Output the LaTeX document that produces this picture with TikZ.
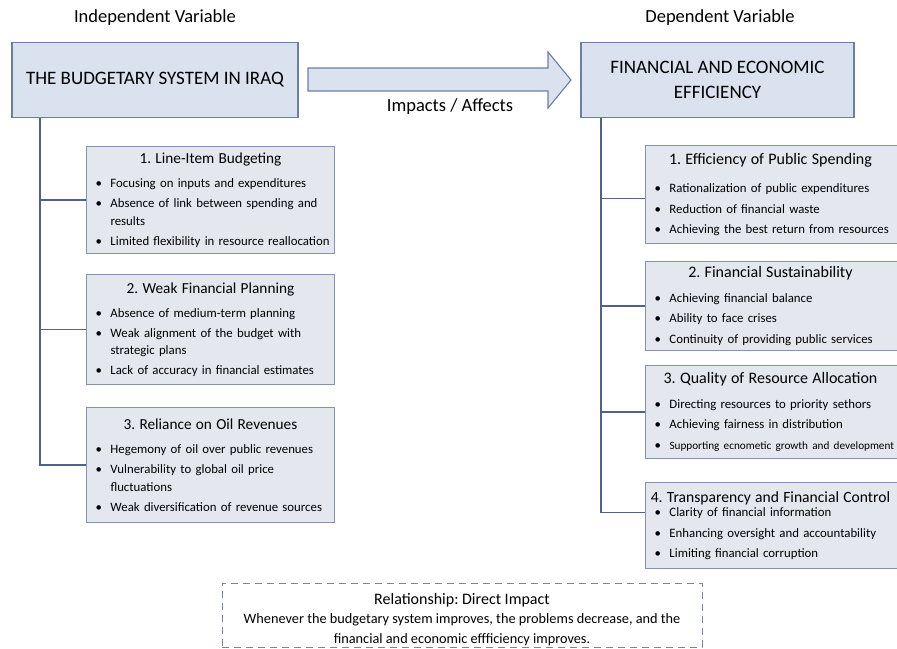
\documentclass[tikz,border=0pt]{standalone}
\usepackage{fontspec}
\setmainfont{Carlito}
\usepackage{tikz}
\usepackage{xcolor}
\usetikzlibrary{positioning,calc}
\definecolor{topfill}{HTML}{DAE1EF}
\definecolor{topdraw}{HTML}{6B7FA3}
\definecolor{subfill}{HTML}{E4E7ED}
\definecolor{subdraw}{HTML}{8494AE}
\definecolor{linecol}{HTML}{50628A}
\frenchspacing
\hyphenpenalty=10000
\newlength{\itmgap}
\setlength{\itmgap}{2.5pt}
\newlength{\hdw}
\setlength{\hdw}{240pt}
\newcommand{\itm}[1]{\par\vspace{\itmgap}\noindent\hyphenpenalty=10000\hangindent=20pt\hangafter=1\makebox[20pt][l]{\hspace{5pt}\textbullet}#1}
\newcommand{\boxhead}[3][3pt]{\noindent\hbox to\hdw{\hss\fontsize{#2}{20}\selectfont #3\hss}\par\vspace{#1}}

\begin{document}
\begin{tikzpicture}[x=1pt,y=-1pt,
    mainbox/.style={draw=topdraw,fill=topfill,line width=1.1pt,align=center,
      font=\fontsize{19}{25}\selectfont,minimum height=75pt,inner sep=0pt},
    subbox/.style={draw=subdraw,fill=subfill,line width=1pt,anchor=north west,
      text width=240pt,inner xsep=4pt,inner ysep=3pt,align=left,
      font=\fontsize{12.8}{17.5}\selectfont},
    subboxR/.style={subbox,text width=256pt,
      execute at begin node={\setlength{\itmgap}{3pt}\setlength{\hdw}{242pt}}},
    varlabel/.style={font=\fontsize{18.5}{22}\selectfont},
    conn/.style={draw=linecol,line width=1.4pt},
    bigarrow/.style={draw=topdraw,fill=topfill,line width=1.1pt,line join=miter},
    notebox/.style={draw=subdraw!90!black,line width=1pt,dash pattern=on 7pt off 5pt,
      align=center,font=\fontsize{14.3}{19.5}\selectfont,inner ysep=0pt,
      minimum width=480pt,minimum height=64pt}]
  \useasboundingbox (0,0) rectangle (897,648);
  \clip (0,0) rectangle (897,648);

  % variables
  \node[varlabel] (indep) at (155,18) {Independent Variable};
  \node[varlabel] (dep) at (720,18) {Dependent Variable};
  \node[mainbox,minimum width=286pt] (budget) at (155,80) {THE BUDGETARY SYSTEM IN IRAQ};
  \node[mainbox,minimum width=273pt] (eff) at (717.5,80) {FINANCIAL AND ECONOMIC\\ EFFICIENCY};

  % impact arrow
  \draw[bigarrow] (308,68) -- (548,68) -- (548,52) -- (571,80) -- (548,108)
    -- (548,91) -- (308,91) -- cycle;
  \node[varlabel] (impact) at (450,107) {Impacts / Affects};

  % left side: problems
  \node[subbox,minimum height=107pt] (l1) at (86,146) {\boxhead[4pt]{15.3}{1. Line-Item Budgeting}
    \itm{Focusing on inputs and expenditures}
    \itm{Absence of link between spending and results}
    \itm{Limited flexibility in resource reallocation}};
  \node[subbox,minimum height=110pt] (l2) at (86,274) {\boxhead[4pt]{15.3}{2. Weak Financial Planning}
    \itm{Absence of medium-term planning}
    \itm{Weak alignment of the budget with strategic plans}
    \itm{Lack of accuracy in financial estimates}};
  \node[subbox,minimum height=115pt] (l3) at (86,407) {\boxhead[4pt]{15.3}{3. Reliance on Oil Revenues}
    \itm{Hegemony of oil over public revenues}
    \itm{Vulnerability to global oil price fluctuations}
    \itm{Weak diversification of revenue sources}};

  % right side: efficiency
  \node[subboxR,minimum height=98pt] (r1) at (645,145) {\boxhead[8pt]{16}{1. Efficiency of Public Spending}
    \itm{Rationalization of public expenditures}
    \itm{Reduction of financial waste}
    \itm{Achieving the best return from resources}};
  \node[subboxR,minimum height=89pt] (r2) at (645,261) {\boxhead[4pt]{16}{2. Financial Sustainability}
    \itm{Achieving financial balance}
    \itm{Ability to face crises}
    \itm{Continuity of providing public services}};
  \node[subboxR,minimum height=93pt] (r3) at (645,365) {\boxhead[4pt]{16}{3. Quality of Resource Allocation}
    \itm{Directing resources to priority sethors}
    \itm{Achieving fairness in distribution}
    \itm{\mbox{\fontsize{11.2}{17.5}\selectfont Supporting ecnometic growth and development}}};
  \node[subboxR,minimum height=86pt] (r4) at (645,482) {\boxhead[-6pt]{15.6}{4. Transparency and Financial Control}
    \itm{Clarity of financial information}
    \itm{Enhancing oversight and accountability}
    \itm{Limiting financial corruption}\par\vspace{4pt}};

  % tree lines
  \coordinate (tl) at (40,0);
  \coordinate (tr) at (601,0);
  \draw[conn] (budget.south -| tl) |- (l3.west);
  \draw[conn] (tl |- l1.west) -- (l1.west);
  \draw[conn] (tl |- l2.west) -- (l2.west);
  \draw[conn] (eff.south -| tr) |- ([yshift=13pt]r4.west);
  \draw[conn] (tr |- r1.west) ++(0,4) -- ([yshift=-4pt]r1.west);
  \draw[conn] (tr |- r2.west) -- (r2.west);
  \draw[conn] (tr |- r3.west) -- (r3.west);

  % relationship note
  \node[notebox] (note) at (462,615) {\rule{0pt}{20pt}{\fontsize{16}{19.5}\selectfont Relationship: Direct Impact}\\
    Whenever the budgetary system improves, the problems decrease, and the\\
    financial and economic effficiency improves.};
\end{tikzpicture}
\end{document}
